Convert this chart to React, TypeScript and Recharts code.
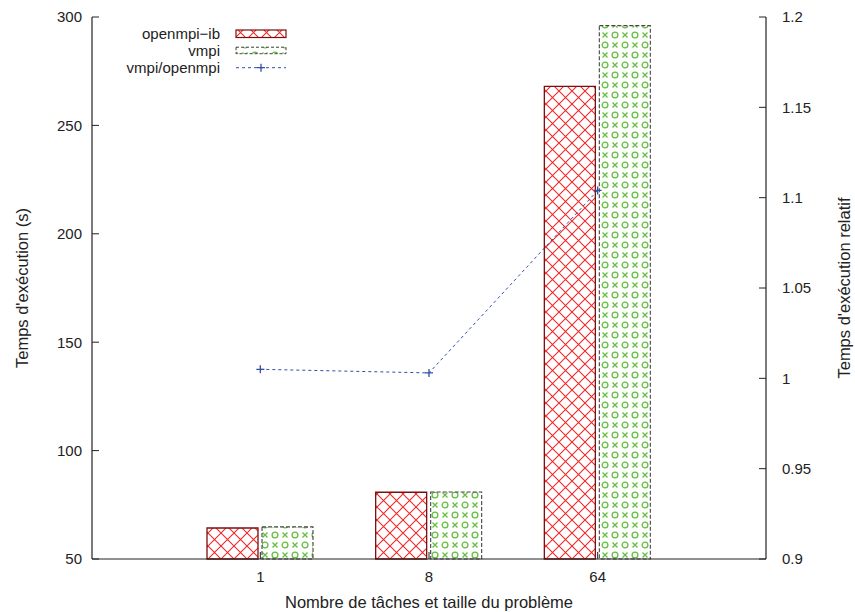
import React from 'react';
import { ComposedChart, Bar, Line, XAxis, YAxis, Legend, Label } from 'recharts';

const categories = ['1', '8', '64'];
const openmpiIb = [64.3, 80.8, 268];
const vmpi = [64.8, 80.9, 296];
const ratio = [1.005, 1.003, 1.104];
const leftTicks = [50, 100, 150, 200, 250, 300];
const rightTicks = [0.9, 0.95, 1, 1.05, 1.1, 1.15, 1.2];

const data = categories.map((name, i) => ({
  name,
  openmpiIb: openmpiIb[i],
  vmpi: vmpi[i],
  ratio: ratio[i],
}));

const FONT = '"Liberation Sans", Arial, Helvetica, sans-serif';
const AXIS = '#222';
const RED = '#ee2a2a';
const GREEN = '#62bf3e';
const BLUE = '#3050a8';
const tickStyle = { fill: '#222', fontSize: 15, fontFamily: FONT };
const labelStyle = { fill: '#222', fontSize: 16.5, fontFamily: FONT, textAnchor: 'middle' as const };

const PlusDot = (props: any) => {
  const { cx, cy } = props;
  if (cx == null || cy == null) return null;
  return (
    <path
      d={`M${cx - 4},${cy}H${cx + 4}M${cx},${cy - 4}V${cy + 4}`}
      stroke={BLUE}
      strokeWidth={1.3}
      fill="none"
    />
  );
};

const LegendBox = () => (
  <svg width={320} height={80} style={{ display: 'block' }}>
    <g fontFamily={FONT} fontSize={15} fill="#222" textAnchor="end">
      <text x={220} y={33.5} dy="0.35em">openmpi−ib</text>
      <text x={220} y={50.7} dy="0.35em">vmpi</text>
      <text x={220} y={67.7} dy="0.35em">vmpi/openmpi</text>
    </g>
    <rect x={236} y={30} width={50} height={7.5} fill="url(#redHatch)" stroke="#7a1010" strokeWidth={1.2} />
    <rect x={236} y={47.2} width={50} height={6.5} fill="url(#greenDots)" stroke="#444" strokeWidth={1} strokeDasharray="3 2" />
    <line x1={236} x2={286} y1={67.7} y2={67.7} stroke={BLUE} strokeDasharray="3 3" />
    <path d="M257,67.7H265M261,63.7V71.7" stroke={BLUE} strokeWidth={1.3} />
  </svg>
);

export default function App() {
  return (
    <div style={{ position: 'absolute', left: 0, top: 0, width: 855, height: 612, background: '#fff' }}>
      <ComposedChart
        width={855}
        height={612}
        data={data}
        margin={{ top: 17, right: 0, bottom: 0, left: 0 }}
        barGap={4}
      >
        <defs>
          <pattern id="redHatch" patternUnits="userSpaceOnUse" width={13} height={13}>
            <rect width={13} height={13} fill="#fff" />
            <path d="M0,0L13,13M13,0L0,13" stroke={RED} strokeWidth={1.1} />
          </pattern>
          <pattern id="greenDots" patternUnits="userSpaceOnUse" width={20} height={20}>
            <rect width={20} height={20} fill="#fff" />
            <circle cx={5} cy={5} r={2.9} stroke={GREEN} strokeWidth={1.3} fill="none" />
            <circle cx={15} cy={15} r={2.9} stroke={GREEN} strokeWidth={1.3} fill="none" />
            <path d="M12.5,2.5L17.5,7.5M17.5,2.5L12.5,7.5M2.5,12.5L7.5,17.5M7.5,12.5L2.5,17.5" stroke={GREEN} strokeWidth={1.3} />
          </pattern>
        </defs>
        <XAxis
          xAxisId="bottom"
          dataKey="name"
          height={53}
          padding={{ left: 84, right: 84 }}
          tickSize={-7}
          tickMargin={19}
          axisLine={{ stroke: AXIS, strokeWidth: 1.2 }}
          tickLine={{ stroke: AXIS }}
          tick={tickStyle}
        >
          <Label value="Nombre de tâches et taille du problème" position="insideBottom" offset={4} style={labelStyle} />
        </XAxis>
        <XAxis
          xAxisId="top"
          dataKey="name"
          orientation="top"
          height={0}
          padding={{ left: 84, right: 84 }}
          tickSize={-7}
          axisLine={{ stroke: AXIS, strokeWidth: 1.2 }}
          tickLine={{ stroke: AXIS }}
          tick={false}
        />
        <YAxis
          yAxisId="left"
          width={92}
          domain={[50, 300]}
          ticks={leftTicks}
          tickSize={-7}
          tickMargin={17}
          axisLine={{ stroke: AXIS, strokeWidth: 1.2 }}
          tickLine={{ stroke: AXIS }}
          tick={tickStyle}
        >
          <Label value="Temps d'exécution (s)" angle={-90} position="insideLeft" offset={22} style={labelStyle} />
        </YAxis>
        <YAxis
          yAxisId="right"
          orientation="right"
          width={89}
          domain={[0.9, 1.2]}
          ticks={rightTicks}
          tickSize={-7}
          tickMargin={23}
          axisLine={{ stroke: AXIS, strokeWidth: 1.2 }}
          tickLine={{ stroke: AXIS }}
          tick={tickStyle}
        >
          <Label value="Temps d'exécution relatif" angle={-90} position="insideRight" offset={11} style={labelStyle} />
        </YAxis>
        <Bar
          xAxisId="bottom"
          yAxisId="left"
          dataKey="openmpiIb"
          name="openmpi−ib"
          barSize={51}
          fill="url(#redHatch)"
          stroke="#7a1010"
          strokeWidth={1.3}
          isAnimationActive={false}
        />
        <Bar
          xAxisId="bottom"
          yAxisId="left"
          dataKey="vmpi"
          name="vmpi"
          barSize={51}
          fill="url(#greenDots)"
          stroke="#444"
          strokeWidth={1.1}
          strokeDasharray="4 2"
          isAnimationActive={false}
        />
        <Line
          xAxisId="bottom"
          yAxisId="right"
          type="linear"
          dataKey="ratio"
          name="vmpi/openmpi"
          stroke={BLUE}
          strokeWidth={1}
          strokeDasharray="3 3"
          dot={<PlusDot />}
          activeDot={false}
          isAnimationActive={false}
        />
        <Legend
          layout="horizontal"
          align="center"
          verticalAlign="middle"
          content={LegendBox}
          wrapperStyle={{ left: 0, top: 0, width: 320, height: 80 }}
        />
      </ComposedChart>
    </div>
  );
}
